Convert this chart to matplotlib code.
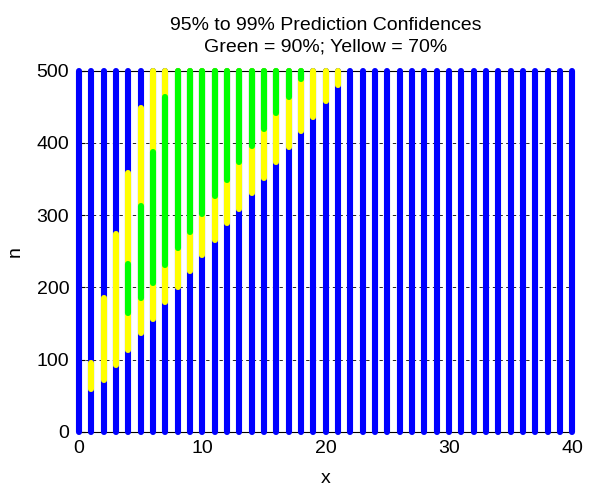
import numpy as np
import matplotlib
matplotlib.use('Agg')
import matplotlib.pyplot as plt

plt.rcParams['font.family'] = ['Liberation Sans', 'DejaVu Sans']

# x positions and band limits (NaN = whole bar blue)
xs = np.arange(0, 41)
n_max = 500
# lower edge of yellow, yellow->green, green->yellow, upper edge of yellow
y70_lo = [np.nan, 60, 72, 93, 113, 137, 157, 180, 201, 223, 245, 266, 289, 309,
          331, 352, 373, 394, 416, 436, 458, 480] + [np.nan] * 19
g90_lo = [np.nan, 95, 186, 274, 164, 185, 206, 231, 254, 277, 301, 326, 349, 373,
          396, 419, 442, 464, 488, 500, 500, 500] + [np.nan] * 19
g90_hi = [np.nan, 95, 186, 274, 233, 312, 387, 463, 500, 500, 500, 500, 500, 500,
          500, 500, 500, 500, 500, 500, 500, 500] + [np.nan] * 19
y70_hi = [np.nan, 95, 186, 274, 359, 448, 500, 500, 500, 500, 500, 500, 500, 500,
          500, 500, 500, 500, 500, 500, 500, 500] + [np.nan] * 19

fig = plt.figure(figsize=(5.93, 4.87), dpi=100)
ax = fig.add_axes([0.133, 0.113, 0.832, 0.742])

lw = 4.4
for i, x in enumerate(xs):
    ax.plot([x, x], [0, n_max], color='#0000ff', lw=lw, solid_capstyle='round',
            zorder=3, clip_on=False)
    if np.isnan(y70_lo[i]):
        continue
    ax.plot([x, x], [y70_lo[i], y70_hi[i]], color='#ffff00', lw=lw,
            solid_capstyle='round', zorder=4, clip_on=False)
    if g90_hi[i] > g90_lo[i]:
        ax.plot([x, x], [g90_lo[i], g90_hi[i]], color='#00ff00', lw=lw,
                solid_capstyle='round', zorder=5, clip_on=False)

ax.set_xlim(0, 40)
ax.set_ylim(0, 500)
ax.set_xticks([0, 10, 20, 30, 40])
ax.set_yticks([0, 100, 200, 300, 400, 500])
ax.tick_params(direction='in', labelsize=14, length=4)
ax.tick_params(axis='x', pad=6)
ax.tick_params(axis='y', pad=7)
ax.grid(True, color='black', linestyle=(0, (4, 4)), linewidth=0.6, zorder=1)
ax.set_axisbelow(True)
ax.set_xlabel('x', fontsize=14, labelpad=9)
ax.set_ylabel('n', fontsize=14, labelpad=9)
ax.set_title('95% to 99% Prediction Confidences\nGreen = 90%; Yellow = 70%',
             fontsize=14, pad=14, linespacing=1.3)

fig.savefig('out.png', dpi=100)
